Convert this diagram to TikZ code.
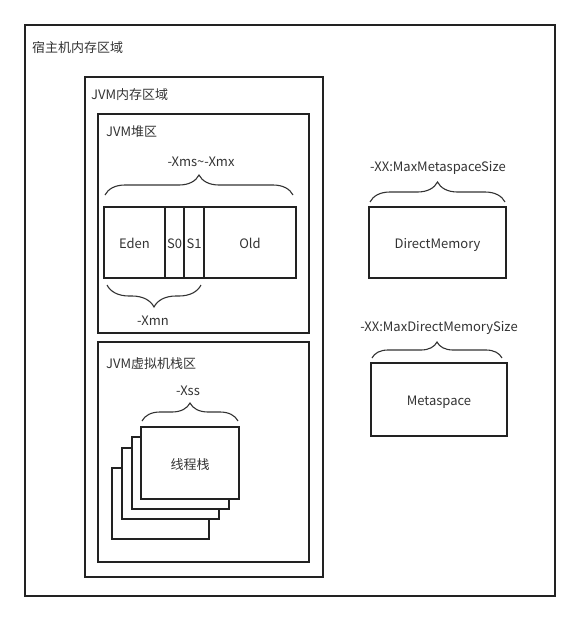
\documentclass[tikz,border=0pt]{standalone}
\usepackage{fontspec}
\setmainfont{Noto Sans CJK SC}
\usetikzlibrary{positioning}
\usetikzlibrary{decorations.pathreplacing}
\definecolor{boxline}{HTML}{222222}
\definecolor{txtgray}{HTML}{333333}
\tikzset{
  area/.style={draw=boxline, line width=1.6pt, anchor=north west, inner sep=0pt, outer sep=0pt,
    text=txtgray, font=\fontsize{13}{15}\selectfont, text height=12pt, text depth=0pt},
  cell/.style={draw=boxline, line width=1.6pt, inner sep=0pt, outer sep=0pt, minimum height=71pt,
    text=txtgray, font=\fontsize{13}{15}\selectfont, text height=12pt, text depth=0pt},
  lbl/.style={text=txtgray, inner sep=0pt, font=\fontsize{13}{15}\selectfont},
  brc/.style={draw=txtgray, line width=1.1pt, decorate, decoration={brace, amplitude=#1}},
  brc/.default=20,
}

\begin{document}
\begin{tikzpicture}[x=1pt,y=-1pt]
    \useasboundingbox (0,0) rectangle (581,621);
    % host memory
    \node[area, minimum width=530pt, minimum height=571pt] (host) at (25,25) {};
    \node[lbl, anchor=west] (hostlbl) at (32,48) {宿主机内存区域};
    % jvm memory
    \node[area, minimum width=238pt, minimum height=500pt] (jvm) at (85,77) {};
    \node[lbl, anchor=west] (jvmlbl) at (91,95) {JVM内存区域};
    % heap
    \node[area, minimum width=211pt, minimum height=219pt] (heap) at (98,114) {};
    \node[lbl, anchor=west] (heaplbl) at (106,132) {JVM堆区};
    \node[cell, anchor=north west, minimum width=61pt] (eden) at (104,207) {Eden};
    \node[cell, right=0pt of eden, minimum width=19pt] (s0) {S0};
    \node[cell, right=0pt of s0, minimum width=20pt] (s1) {S1};
    \node[cell, right=0pt of s1, minimum width=92pt] (old) {Old};
    \draw[brc] ([shift={(1,-12)}]eden.north west) -- ([shift={(-3,-12)}]old.north east);
    \node[lbl] (xmsx) at (201,162) {-Xms\textasciitilde-Xmx};
    \draw[brc=22, decoration={mirror}] ([shift={(3,7)}]eden.south west) -- ([shift={(-3,7)}]s1.south east);
    \node[lbl] (xmn) at (153,321) {-Xmn};
    % stack
    \node[area, minimum width=211pt, minimum height=220pt] (stack) at (98,342) {};
    \node[lbl, anchor=west] (stacklbl) at (106,364) {JVM虚拟机栈区};
    \node[area, fill=white, minimum width=97pt, minimum height=71pt] (f4) at (112,468) {};
    \node[area, fill=white, minimum width=97pt, minimum height=71pt] (f3) at (122,448) {};
    \node[area, fill=white, minimum width=97pt, minimum height=72pt] (f2) at (132,437) {};
    \node[area, fill=white, minimum width=98pt, minimum height=72pt] (f1) at (141,427) {线程栈};
    \draw[brc=18] ([shift={(1,-6)}]f1.north west) -- ([shift={(-1,-6)}]f1.north east);
    \node[lbl] (xss) at (188,391) {-Xss};
    % outside jvm
    \node[area, minimum width=137pt, minimum height=71pt] (direct) at (369,207) {DirectMemory};
    \draw[brc] ([shift={(1,-5)}]direct.north west) -- ([shift={(-1,-5)}]direct.north east);
    \node[lbl] (maxmeta) at (438,168) {-XX:MaxMetaspaceSize};
    \node[area, minimum width=136pt, minimum height=73pt] (meta) at (371,363) {Metaspace};
    \draw[brc=16] ([shift={(1,-5)}]meta.north west) -- ([shift={(-5,-5)}]meta.north east);
    \node[lbl] (maxdirect) at (439,328) {-XX:MaxDirectMemorySize};
\end{tikzpicture}
\end{document}
